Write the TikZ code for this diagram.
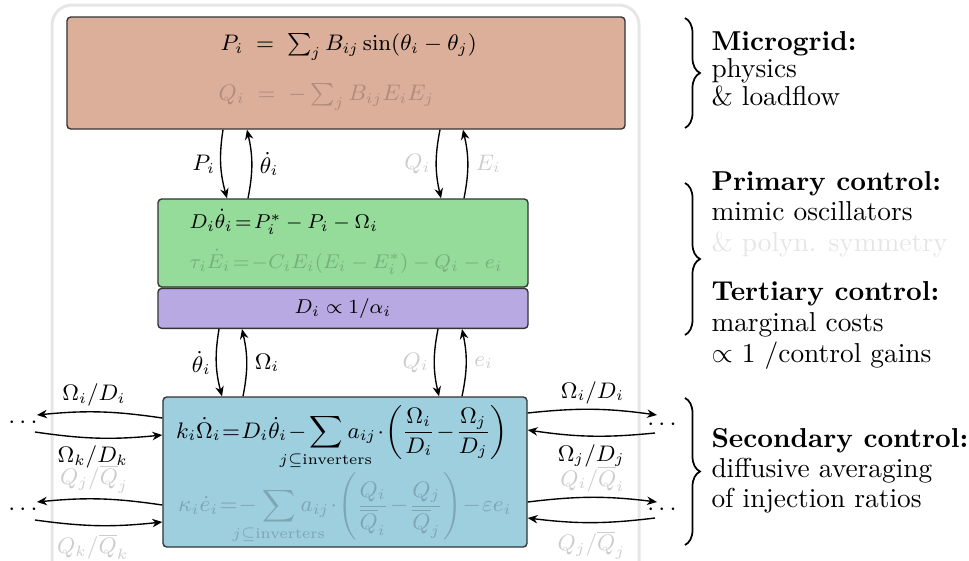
\documentclass[tikz,border=0pt,11pt]{standalone}
\usepackage{amsmath,amssymb,mathtools}
\usetikzlibrary{positioning,calc,arrows.meta,decorations.pathreplacing}
\definecolor{gridc}{HTML}{DCAF9B}
\definecolor{primc}{HTML}{95DB9A}
\definecolor{tertc}{HTML}{B9A9E3}
\definecolor{secc}{HTML}{9DCFDF}
\definecolor{framec}{HTML}{E6E6E6}
\begin{document}
\begin{tikzpicture}[x=0.4pt,y=0.4pt,>={Stealth[length=4pt,width=3.4pt]},font=\footnotesize,
box/.style={draw=black!80,line width=0.55pt,rounded corners=1.5pt,minimum width=148pt},
faint/.style={text=black,text opacity=0.2},
tight/.style={execute at begin node={\medmuskip=1mu\thickmuskip=1mu}},
lnk/.style={->,line width=0.55pt},
brc/.style={decorate,decoration={brace,amplitude=6pt},line width=0.7pt},
side/.style={anchor=base west,inner sep=0pt,font=\normalsize}]
\useasboundingbox (0,0) rectangle (969,-561);
\draw[framec,line width=1.2pt,rounded corners=8pt] (52,-590) -- (52,-5) -- (639,-5) -- (639,-590);
\node[box,fill=gridc,minimum width=223.2pt,minimum height=44.8pt] (grid) at (346,-73) {};
\node[anchor=west] (pe) at (211,-47) {$P_i\;=\;\sum_j B_{ij}\sin(\theta_i-\theta_j)$};
\node[anchor=west,faint] (qe) at (209,-97) {$Q_i\;=\;-\sum_j B_{ij}E_iE_j$};
\node[box,fill=primc,minimum height=35.2pt] (prim) at (343,-243) {};
\node[box,fill=tertc,minimum height=16pt,below=0pt of prim,font=\scriptsize] (tert) {$D_i\propto 1/\alpha_i$};
\node[anchor=west,font=\scriptsize] (de) at (180,-222) {$D_i\dot\theta_i\!=\!P_i^*-P_i-\Omega_i$};
\node[anchor=west,faint,font=\scriptsize] (ee) at (180,-262) {$\tau_i\dot E_i\!=\!-C_iE_i(E_i-E_i^*)-Q_i-e_i$};
\node[box,fill=secc,minimum width=145.6pt,minimum height=60pt] (sec) at (345,-472) {};
\node[tight] (oe) at (342,-438) {$\displaystyle k_i\dot\Omega_i=D_i\dot\theta_i-\;\sum_{\mathclap{j\subseteq\text{inverters}}}\;a_{ij}\cdot\left(\frac{\Omega_i}{D_i}-\frac{\Omega_j}{D_j}\right)$};
\node[faint,tight] (ke) at (345,-508) {$\displaystyle \kappa_i\dot e_i=-\;\sum_{\mathclap{j\subseteq\text{inverters}}}\;a_{ij}\cdot\left(\frac{Q_i}{\overline{Q}_i}-\frac{Q_j}{\overline{Q}_j}\right)-\varepsilon e_i$};
\draw[lnk] ($(grid.south)+(-123,0)$) to[bend right=12] node[left,inner sep=2pt] {$P_i$} ($(prim.north)+(-116,0)$);
\draw[lnk] ($(prim.north)+(-95,0)$) to[bend right=12] node[right,inner sep=3pt] {$\dot\theta_i$} ($(grid.south)+(-99,0)$);
\draw[lnk] ($(grid.south)+(94,0)$) to[bend right=12] node[left,inner sep=2pt,faint] {$Q_i$} ($(prim.north)+(98,0)$);
\draw[lnk] ($(prim.north)+(121,0)$) to[bend right=12] node[right,inner sep=3pt,faint] {$E_i$} ($(grid.south)+(117,0)$);
\draw[lnk] ($(tert.south)+(-124,0)$) to[bend right=12] node[left,inner sep=2pt] {$\dot\theta_i$} ($(sec.north)+(-123,0)$);
\draw[lnk] ($(sec.north)+(-102,0)$) to[bend right=12] node[right,inner sep=3pt] {$\Omega_i$} ($(tert.south)+(-101,0)$);
\draw[lnk] ($(tert.south)+(95,0)$) to[bend right=12] node[left,inner sep=2pt,faint] {$Q_i$} ($(sec.north)+(94,0)$);
\draw[lnk] ($(sec.north)+(117,0)$) to[bend right=12] node[right,inner sep=3pt,faint] {$e_i$} ($(tert.south)+(119,0)$);
\node[inner sep=0pt,font=\small] (ldA) at (25,-423) {$\cdots$};
\node[inner sep=0pt,font=\small] (ldB) at (25,-510) {$\cdots$};
\node[inner sep=0pt,font=\small] (rdA) at (664,-425) {$\cdots$};
\node[inner sep=0pt,font=\small] (rdB) at (664,-510) {$\cdots$};
\draw[lnk] ($(sec.west)+(0,54)$) to[bend right=7] node[above,pos=.55,inner sep=2pt] {$\Omega_i/D_i$} ($(ldA)+(12,8)$);
\draw[lnk] ($(ldA)+(10,-9)$) to[bend right=7] node[below,pos=.45,inner sep=3pt] {$\Omega_k/D_k$} ($(sec.west)+(0,37)$);
\draw[lnk] ($(sec.west)+(0,-33)$) to[bend right=7] node[above,pos=.55,inner sep=2pt,faint] {$Q_j/\overline{Q}_j$} ($(ldB)+(12,8)$);
\draw[lnk] ($(ldB)+(10,-10)$) to[bend right=7] node[below,pos=.45,inner sep=3pt,faint] {$Q_k/\overline{Q}_k$} ($(sec.west)+(0,-50)$);
\draw[lnk] ($(sec.east)+(0,59)$) to[bend left=7] node[above,inner sep=2pt] {$\Omega_i/D_i$} ($(rdA)+(-7,10)$);
\draw[lnk] ($(rdA)+(-9,-8)$) to[bend left=7] node[below,inner sep=3pt] {$\Omega_j/D_j$} ($(sec.east)+(0,42)$);
\draw[lnk] ($(sec.east)+(0,-30)$) to[bend left=7] node[above,inner sep=2pt,faint] {$Q_i/\overline{Q}_i$} ($(rdB)+(-7,8)$);
\draw[lnk] ($(rdB)+(-9,-8)$) to[bend left=7] node[below,inner sep=3pt,faint] {$Q_j/\overline{Q}_j$} ($(sec.east)+(0,-46)$);
\draw[brc] (685,-18) -- (685,-128);
\draw[brc] (685,-183) -- (685,-335);
\draw[brc] (685,-398) -- (685,-545);
\foreach \y/\t [count=\n] in {50/\textbf{Microgrid:},77/physics,105/\&~loadflow,
190/\textbf{Primary control:},220/mimic oscillators,251/\textcolor{black!10}{\& polyn. symmetry},
300/\textbf{Tertiary control:},331/marginal costs,362/{$\propto$ 1 /control gains},
447/\textbf{Secondary control:},477/diffusive averaging,507/of injection ratios}
{\node[side] (t\n) at (711,-\y) {\t};}
\end{tikzpicture}
\end{document}
